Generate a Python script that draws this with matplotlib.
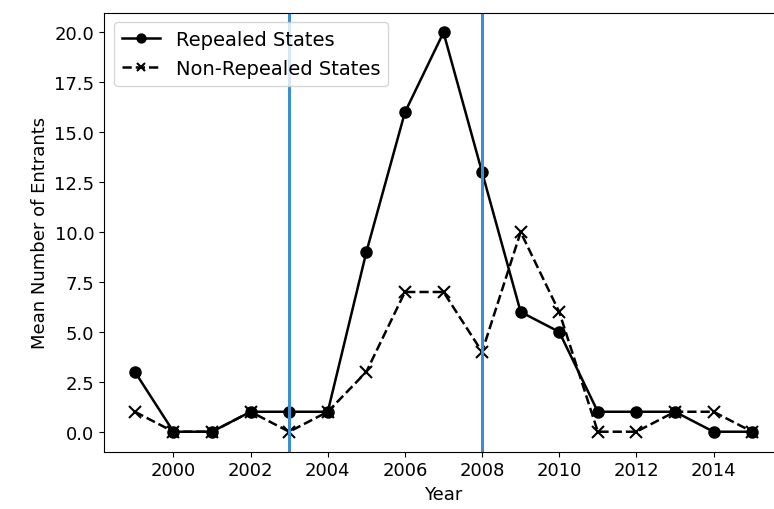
import matplotlib
matplotlib.use("Agg")
import matplotlib.pyplot as plt

years = [1999, 2000, 2001, 2002, 2003, 2004, 2005, 2006, 2007,
         2008, 2009, 2010, 2011, 2012, 2013, 2014, 2015]
repealed = [3, 0, 0, 1, 1, 1, 9, 16, 20, 13, 6, 5, 1, 1, 1, 0, 0]
non_repealed = [1, 0, 0, 1, 0, 1, 3, 7, 7, 4, 10, 6, 0, 0, 1, 1, 0]
policy_years = [2003, 2008]

plt.rcParams['font.size'] = 13

fig, ax = plt.subplots(figsize=(7.74, 5.10), dpi=100)
# the original picture is cut off on the right, so the axes run past the edge
fig.subplots_adjust(left=0.1344, right=1.0116, top=0.9735, bottom=0.1124)

ax.plot(years, repealed, 'k-o', lw=1.8, ms=8, label='Repealed States')
ax.plot(years, non_repealed, 'k--x', lw=1.8, ms=8, mew=1.5, label='Non-Repealed States')
for y in policy_years:
    ax.axvline(y, color='#3a8fd2', lw=2.2)

ax.set_xticks(range(2000, 2016, 2))
ax.set_yticks([0, 2.5, 5, 7.5, 10, 12.5, 15, 17.5, 20])
ax.set_xlabel('Year')
ax.set_ylabel('Mean Number of Entrants')
ax.legend(loc='upper left', fontsize=14, markerscale=0.8)

fig.savefig('out.png', dpi=100)
